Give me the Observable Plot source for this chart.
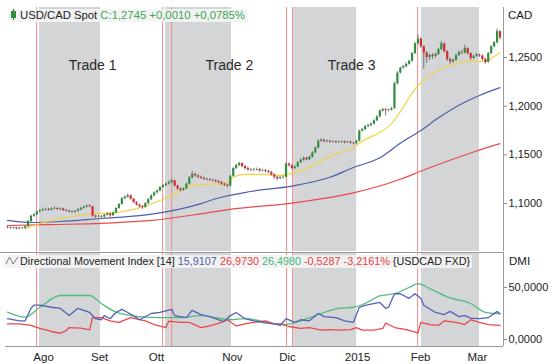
<!DOCTYPE html>
<html><head><meta charset="utf-8">
<script src="https://cdn.jsdelivr.net/npm/d3@7"></script>
<script src="https://cdn.jsdelivr.net/npm/@observablehq/plot@0.6"></script>
<style>
body{margin:0;background:#fff;font-family:"Liberation Sans",Arial,sans-serif;}
#wrap{position:relative;width:553px;height:364px;overflow:hidden}
#wrap > svg{display:block}
.leg{position:absolute;white-space:nowrap;background:rgba(243,243,243,0.92);color:#222;line-height:13px;padding:0 2px}
.leg svg{display:inline-block}
.lab{position:absolute;white-space:nowrap;color:#222;font-size:11.5px;line-height:13px}
</style></head><body><div id="wrap"></div>
<script>
// ---------- DATA ----------
// daily USD/CAD candles (trading-day index 0..168)
const firstOpen = 1.0758;
const closes = [
1.0752,1.0745,1.0750,1.0740,1.0748,1.0744,1.0762,1.0815,1.0870,1.0885,
1.0915,1.0925,1.0935,1.0940,1.0932,1.0945,1.0950,1.0938,1.0945,1.0930,
1.0925,1.0915,1.0910,1.0920,1.0935,1.0950,1.0962,1.0975,1.0968,1.0870,
1.0865,1.0868,1.0862,1.0880,1.0895,1.0875,1.0905,1.0950,1.0990,1.1050,
1.1065,1.1080,1.1045,1.1010,1.0985,1.0970,1.0960,1.1000,1.1040,1.1080,
1.1110,1.1130,1.1165,1.1185,1.1200,1.1215,1.1235,1.1180,1.1150,1.1135,
1.1150,1.1200,1.1265,1.1300,1.1285,1.1270,1.1260,1.1250,1.1245,1.1240,
1.1235,1.1225,1.1215,1.1200,1.1190,1.1180,1.1280,1.1360,1.1390,1.1410,
1.1380,1.1360,1.1345,1.1340,1.1345,1.1350,1.1335,1.1340,1.1330,1.1320,
1.1295,1.1270,1.1255,1.1265,1.1270,1.1405,1.1390,1.1360,1.1375,1.1420,
1.1445,1.1465,1.1450,1.1475,1.1520,1.1570,1.1640,1.1650,1.1635,1.1640,
1.1630,1.1635,1.1625,1.1630,1.1635,1.1625,1.1630,1.1620,1.1615,1.1640,
1.1745,1.1760,1.1790,1.1800,1.1815,1.1850,1.1890,1.1950,1.1965,1.1955,
1.1960,1.1975,1.2230,1.2340,1.2390,1.2405,1.2430,1.2460,1.2540,1.2640,
1.2690,1.2610,1.2545,1.2500,1.2520,1.2510,1.2530,1.2580,1.2640,1.2560,
1.2480,1.2455,1.2470,1.2520,1.2550,1.2545,1.2590,1.2540,1.2490,1.2510,
1.2525,1.2515,1.2480,1.2450,1.2540,1.2610,1.2650,1.2765,1.2700];
const highs = [
1.0768,1.0760,1.0758,1.0757,1.0756,1.0755,1.0770,1.0828,1.0880,1.0898,
1.0925,1.0938,1.0948,1.0955,1.0950,1.0960,1.0965,1.0958,1.0955,1.0952,
1.0940,1.0932,1.0925,1.0930,1.0948,1.0962,1.0975,1.0985,1.0988,1.0972,
1.0880,1.0878,1.0880,1.0890,1.0905,1.0900,1.0912,1.0958,1.1002,1.1062,
1.1080,1.1098,1.1088,1.1052,1.1020,1.0995,1.0980,1.1010,1.1050,1.1090,
1.1122,1.1142,1.1175,1.1195,1.1212,1.1232,1.1248,1.1240,1.1188,1.1160,
1.1162,1.1210,1.1278,1.1330,1.1312,1.1295,1.1282,1.1272,1.1262,1.1258,
1.1250,1.1245,1.1235,1.1225,1.1210,1.1198,1.1290,1.1372,1.1405,1.1425,
1.1418,1.1392,1.1375,1.1358,1.1360,1.1365,1.1362,1.1352,1.1350,1.1342,
1.1330,1.1305,1.1280,1.1278,1.1282,1.1420,1.1418,1.1398,1.1388,1.1430,
1.1458,1.1478,1.1475,1.1488,1.1532,1.1582,1.1652,1.1668,1.1660,1.1652,
1.1648,1.1645,1.1642,1.1640,1.1645,1.1642,1.1640,1.1638,1.1630,1.1650,
1.1755,1.1772,1.1800,1.1815,1.1828,1.1862,1.1902,1.1962,1.1978,1.1975,
1.1972,1.1988,1.2245,1.2355,1.2402,1.2420,1.2445,1.2472,1.2552,1.2655,
1.2730,1.2700,1.2620,1.2560,1.2535,1.2540,1.2545,1.2595,1.2665,1.2648,
1.2570,1.2495,1.2485,1.2535,1.2565,1.2575,1.2625,1.2600,1.2550,1.2525,
1.2540,1.2535,1.2525,1.2490,1.2552,1.2622,1.2665,1.2790,1.2775];
const lows = [
1.0740,1.0735,1.0736,1.0728,1.0733,1.0735,1.0738,1.0755,1.0808,1.0860,
1.0878,1.0905,1.0918,1.0925,1.0922,1.0925,1.0938,1.0930,1.0928,1.0920,
1.0912,1.0905,1.0898,1.0902,1.0912,1.0928,1.0942,1.0955,1.0958,1.0860,
1.0848,1.0855,1.0845,1.0852,1.0872,1.0858,1.0868,1.0898,1.0942,1.0985,
1.1040,1.1055,1.1035,1.1000,1.0975,1.0952,1.0940,1.0952,1.0992,1.1032,
1.1070,1.1100,1.1120,1.1155,1.1175,1.1190,1.1205,1.1170,1.1135,1.1122,
1.1125,1.1142,1.1192,1.1255,1.1272,1.1258,1.1248,1.1238,1.1232,1.1228,
1.1222,1.1212,1.1202,1.1188,1.1175,1.1165,1.1172,1.1272,1.1350,1.1380,
1.1368,1.1345,1.1332,1.1328,1.1330,1.1335,1.1322,1.1325,1.1318,1.1305,
1.1282,1.1250,1.1235,1.1245,1.1252,1.1262,1.1375,1.1345,1.1350,1.1368,
1.1410,1.1435,1.1438,1.1442,1.1468,1.1512,1.1562,1.1632,1.1625,1.1625,
1.1620,1.1622,1.1615,1.1618,1.1620,1.1612,1.1618,1.1610,1.1602,1.1605,
1.1632,1.1735,1.1750,1.1780,1.1790,1.1808,1.1842,1.1880,1.1940,1.1900,
1.1942,1.1950,1.1968,1.2220,1.2330,1.2380,1.2395,1.2420,1.2452,1.2530,
1.2630,1.2595,1.2380,1.2440,1.2470,1.2480,1.2495,1.2520,1.2570,1.2545,
1.2460,1.2430,1.2440,1.2460,1.2510,1.2530,1.2535,1.2525,1.2470,1.2478,
1.2500,1.2500,1.2465,1.2430,1.2442,1.2530,1.2600,1.2640,1.2680];

// moving averages (sampled day, value)
const maFastDays = [6,10,20,31,36,43,52,57,62,69,74,77,81,86,93,98,103,107,112,118,120,131,140,144,151,158,163,165,168];
const maFastVals = [1.0738,1.0785,1.0857,1.0900,1.0905,1.0940,1.1032,1.1100,1.1180,1.1200,1.1200,1.1270,1.1300,1.1300,1.1290,1.1320,1.1370,1.1440,1.1510,1.1576,1.1620,1.1820,1.2210,1.2315,1.2420,1.2460,1.2460,1.2490,1.2550];
const maMidDays = [0,8,18,32,42,55,66,71,83,97,110,118,127,134,141,147,154,161,168];
const maMidVals = [1.0827,1.0806,1.0816,1.0847,1.0868,1.0920,1.1000,1.1050,1.1124,1.1180,1.1270,1.1370,1.1470,1.1620,1.1750,1.1880,1.2010,1.2110,1.2190];
const maSlowDays = [0,15,32,49,66,76,97,103,118,134,142,150,159,168];
const maSlowVals = [1.0775,1.0785,1.0796,1.0827,1.0895,1.0940,1.1005,1.1030,1.1110,1.1250,1.1345,1.1435,1.1530,1.1615];

// DMI lines
const adxDays = [0,6,11,18,28,32,37,45,52,59,66,71,76,81,86,91,95,100,107,113,118,122,127,132,137,140,144,151,158,163,166,168];
const adxVals = [26.3,21.5,31,42.3,42.3,34.6,26.3,22,21,21,23,21,19,20,18,15,14.4,18,25,30,31,34.6,42,44,50,53.8,49,40,34.6,26,25,25];
const pdiDays = [0,4,6,8,9,11,15,18,21,24,28,30,32,33,35,37,39,41,44,45,49,52,56,57,61,63,66,69,73,74,76,78,81,84,88,91,93,95,98,100,103,106,108,112,115,118,120,122,124,127,129,130,132,134,136,137,139,141,142,146,149,151,154,156,158,161,164,166,167,168];
const pdiVals = [20,18,18,30,33,33,31,30,23,30,26,20,19,23,20,26,29,26,21,19,25,26,29,23,21,28,24,22,18,17.6,23,26,20,18,16,15,13.5,20,16.5,19,18,25,22,21,18,16.5,31,32.7,34,35.6,30,31,44,44,41,39.6,44,39.6,33,26,24,27,22,23,20.5,20,21,25,27,24.6];
const mdiDays = [0,4,8,11,15,18,20,21,25,28,29,32,35,38,42,47,50,54,55,59,62,66,69,73,75,78,81,84,88,91,93,96,100,103,107,110,113,117,119,121,125,128,129,130,132,136,140,141,144,147,149,153,156,158,161,164,168];
const mdiVals = [15,15,13.5,10.6,7.7,6,8.6,11.5,11,9.3,21,21,18,16.5,21,18,14.4,11.5,17.6,16.5,16.5,11.5,13,16.5,19,13,15,16.5,18,15,15,12.5,10.6,11.5,9,9.5,9,9.5,11.5,9,9,10.6,15.8,14.4,11.5,9.5,6.4,16.5,14.4,13.5,18,16.5,14.4,19,16.5,14.4,13.5];

// x-axis months
const monthLabels = ["Ago","Set","Ott","Nov","Dic","2015","Feb","Mar"];
const monthDays = [12.3,31.4,50.8,76.7,95.5,119.4,140.9,160.3];
// shaded trade periods and signal days
const shadeFrom = [10.9,53.9,97.6,141.2];
const shadeTo = [31.7,76.4,119.1,161.0];
const signalDays = [9.9,52.9,56.0,95.2,97.2,139.9];
const tradeNames = ["Trade 1","Trade 2","Trade 3"];
const tradeDays = [29,75.7,117.4];
const priceTicks = [1.10,1.15,1.20,1.25];
const dmiTicks = [0,50];

// ---------- BUILD ----------
(function(){
const candles = closes.map((c,i)=>({day:i, open: i ? closes[i-1] : firstOpen, close:c, high:highs[i], low:lows[i]}));
const zip = (ds,vs)=>ds.map((d,i)=>({day:d, v:vs[i]}));
const shades = shadeFrom.map((a,i)=>({a, b:shadeTo[i]}));
const fmt4 = v => d3.format(".4f")(v).replace(".", ",");
const XD = [-0.7, 169.2];
const GRAY = "#d4d5d7", SIG = "#f28a8a";
const C_UP = "#2f8f3f", C_DN = "#d42a2e";

const topPlot = Plot.plot({
  width: 553, height: 251,
  marginLeft: 5, marginRight: 50, marginTop: 7, marginBottom: 0,
  style: {fontFamily: '"Liberation Sans", Arial, sans-serif', color: "#222", background: "transparent"},
  x: {type: "linear", domain: XD, axis: null},
  y: {domain: [1.05082, 1.3013], axis: null},
  marks: [
    Plot.rect(shades, {x1: "a", x2: "b", fill: GRAY}),
    Plot.ruleX(signalDays, {stroke: SIG, strokeWidth: 1}),
    Plot.text(tradeNames.map((t,i)=>({t, d: tradeDays[i]})), {x: "d", text: "t", frameAnchor: "top", dy: 53,
      fontFamily: '"Liberation Sans Narrow", "Arial Narrow", Arial, sans-serif', fontSize: 14, fill: "#2a2a2a"}),
    Plot.line(zip(maSlowDays, maSlowVals), {x: "day", y: "v", stroke: "#ea4a4a", strokeWidth: 1.2, curve: "monotone-x"}),
    Plot.line(zip(maMidDays, maMidVals), {x: "day", y: "v", stroke: "#4e5cae", strokeWidth: 1.2, curve: "monotone-x"}),
    Plot.line(zip(maFastDays, maFastVals), {x: "day", y: "v", stroke: "#f5d24a", strokeWidth: 1.2, curve: "monotone-x"}),
    Plot.ruleX(candles, {x: "day", y1: "low", y2: "high", stroke: "#555", strokeWidth: 0.8}),
    Plot.ruleX(candles, {x: "day", y1: "open", y2: "close", strokeWidth: 2.2,
      stroke: d => d.close >= d.open ? C_UP : C_DN}),
    Plot.ruleX([XD[1]], {stroke: "#9a9a9a"}),
    Plot.axisY(priceTicks, {anchor: "right", label: null, tickSize: 3, tickPadding: 2, tickFormat: fmt4, fontSize: 11, stroke: "#888"})
  ]
});

const bottomPlot = Plot.plot({
  width: 553, height: 113,
  marginLeft: 5, marginRight: 50, marginTop: 1, marginBottom: 18,
  style: {fontFamily: '"Liberation Sans", Arial, sans-serif', color: "#222", background: "transparent", overflow: "visible"},
  x: {type: "linear", domain: XD, axis: null},
  y: {domain: [-6.73, 83.65], axis: null},
  marks: [
    Plot.rect(shades, {x1: "a", x2: "b", fill: GRAY}),
    Plot.ruleX(signalDays, {stroke: SIG, strokeWidth: 1}),
    Plot.line(zip(adxDays, adxVals), {x: "day", y: "v", stroke: "#52bb82", strokeWidth: 1.3, curve: "monotone-x"}),
    Plot.line(zip(mdiDays, mdiVals), {x: "day", y: "v", stroke: "#ec4848", strokeWidth: 1.3}),
    Plot.line(zip(pdiDays, pdiVals), {x: "day", y: "v", stroke: "#5462b6", strokeWidth: 1.3}),
    Plot.ruleY([83.65], {x1: -2.4, x2: XD[1], stroke: "#9a9a9a"}),
    Plot.ruleY([-6.73], {x1: XD[0], x2: XD[1], stroke: "#9a9a9a"}),
    Plot.ruleX([XD[1]], {stroke: "#9a9a9a"}),
    Plot.axisY(dmiTicks, {anchor: "right", label: null, tickSize: 3, tickPadding: 2, tickFormat: fmt4, fontSize: 11, stroke: "#888"}),
    Plot.axisX(monthDays, {anchor: "bottom", label: null, tickSize: 0, tickPadding: 6, fontSize: 11.5,
      tickFormat: d => monthLabels[monthDays.indexOf(d)]})
  ]
});

const wrap = document.getElementById("wrap");
wrap.appendChild(topPlot);
wrap.appendChild(bottomPlot);

function addDiv(cls, left, topPx, html, fs){
  const d = document.createElement("div");
  d.className = cls; d.style.left = left + "px"; d.style.top = topPx + "px";
  if (fs) d.style.fontSize = fs + "px";
  d.innerHTML = html; wrap.appendChild(d);
}
addDiv("leg", 8, 9,
  '<svg width="7" height="11" style="vertical-align:-1px;margin-right:3px"><line x1="3.5" y1="0" x2="3.5" y2="11" stroke="#2f6f3a"/><rect x="1" y="2" width="5" height="7" fill="#2f8f3f"/></svg>USD/CAD Spot <span style="color:#3aa856">C:1,2745 +0,0010 +0,0785%</span>', 11.3);
addDiv("leg", 3, 255,
  '<svg width="14" height="9" style="vertical-align:0px;margin-right:1px"><polyline points="1,8 4.5,1 8,8 13,1" fill="none" stroke="#777" stroke-width="1"/></svg>Directional Movement Index [14] <span style="color:#4e5cae">15,9107</span> <span style="color:#e8413e">26,9730</span> <span style="color:#43b57a">26,4980</span> <span style="color:#e8413e">-0,5287 -3,2161%</span> {USDCAD FXD}', 10.8);
addDiv("lab", 508, 9, "CAD");
addDiv("lab", 509, 255, "DMI");
})();
</script></body></html>
